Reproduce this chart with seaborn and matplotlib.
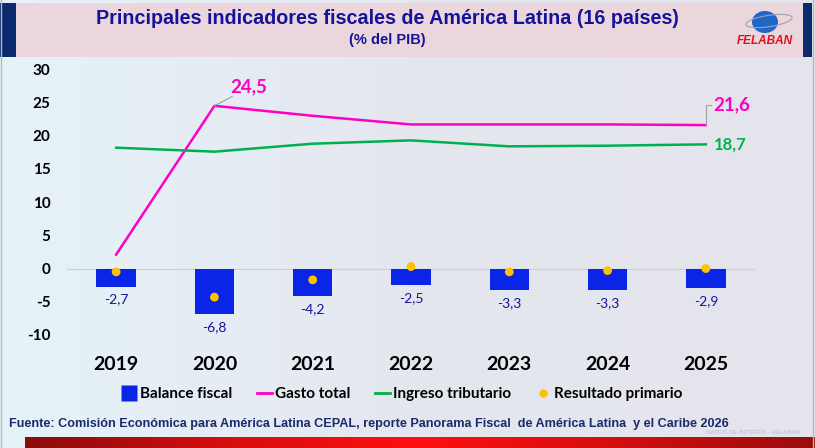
import numpy as np
import pandas as pd
import matplotlib
matplotlib.use("Agg")
import matplotlib.pyplot as plt
import seaborn as sns
from matplotlib.patches import Rectangle, Ellipse
from matplotlib.lines import Line2D

# -----------------------------
# Data (% del PIB)
# -----------------------------
years = ["2019", "2020", "2021", "2022", "2023", "2024", "2025"]
balance_fiscal = [-2.7, -6.8, -4.2, -2.5, -3.3, -3.3, -2.9]
gasto_total = [2.1, 24.5, 23.0, 21.7, 21.7, 21.7, 21.6]
ingreso_tributario = [18.2, 17.6, 18.8, 19.3, 18.4, 18.5, 18.7]
resultado_primario = [-0.5, -4.3, -1.7, 0.3, -0.5, -0.3, 0.0]
y_ticks = [-10, -5, 0, 5, 10, 15, 20, 25, 30]

df = pd.DataFrame({
    "year": years,
    "pos": np.arange(len(years)),
    "balance": balance_fiscal,
    "gasto": gasto_total,
    "ingreso": ingreso_tributario,
    "primario": resultado_primario,
})

# -----------------------------
# Style
# -----------------------------
NAVY = "#14149a"
BLUE = "#0a24e8"
PINK = "#ff00c3"
GREEN = "#00b050"
GOLD = "#ffc000"
plt.rcParams["font.family"] = ["Lato", "DejaVu Sans"]
NARROW = ["Liberation Sans Narrow", "Liberation Sans", "DejaVu Sans"]

W, H = 815, 448
fig = plt.figure(figsize=(W / 100, H / 100), dpi=100)


def fx(px):
    return px / W


def fy(py):
    return 1 - py / H


# background gradient
bg = fig.add_axes([0, 0, 1, 1], zorder=-10)
grad = np.linspace(0, 1, 256)[None, :]
cmap_bg = matplotlib.colors.LinearSegmentedColormap.from_list("bg", ["#e6f3f9", "#e5e7ef", "#e4e5ec"])
bg.imshow(grad, aspect="auto", cmap=cmap_bg, extent=[0, 1, 0, 1])
bg.set_xlim(0, 1)
bg.set_ylim(0, 1)
bg.axis("off")

# header band
fig.patches.append(Rectangle((fx(16), fy(57)), fx(787), 54 / H, transform=fig.transFigure,
                             facecolor="#ecd6dd", edgecolor="none", zorder=-5))
fig.patches.append(Rectangle((0, fy(57)), fx(16), 54 / H, transform=fig.transFigure,
                             facecolor="#0b2a6e", edgecolor="none", zorder=-5))
fig.patches.append(Rectangle((fx(803), fy(57)), fx(9), 54 / H, transform=fig.transFigure,
                             facecolor="#0b2a6e", edgecolor="none", zorder=-5))
fig.text(fx(387), fy(18), "Principales indicadores fiscales de América Latina (16 países)",
         ha="center", va="center", fontsize=14.2, fontweight="bold", color=NAVY, family=NARROW)
fig.text(fx(387), fy(40), "(% del PIB)", ha="center", va="center", fontsize=10.5,
         fontweight="bold", color=NAVY, family=NARROW)

# logo
fig.patches.append(Ellipse((fx(765), fy(22)), 26 / W, 22 / H, transform=fig.transFigure,
                           facecolor="#1e66c8", edgecolor="none", zorder=-4))
fig.patches.append(Ellipse((fx(769), fy(21)), 48 / W, 11 / H, angle=18, transform=fig.transFigure,
                           facecolor="none", edgecolor="#9aa4b8", lw=0.8, zorder=-4))
fig.text(fx(765), fy(41), "FELABAN", ha="center", va="center", fontsize=8.5, fontweight="bold",
         fontstyle="italic", color="#e0101a", family=["Liberation Sans", "DejaVu Sans"])

# -----------------------------
# Main chart
# -----------------------------
ax = fig.add_axes([fx(67), fy(335), fx(755) - fx(67), (335 - 69.3) / H])
ax.set_facecolor("none")

sns.barplot(data=df, x="year", y="balance", color=BLUE, width=0.4, saturation=1,
            ax=ax, zorder=2)
sns.lineplot(data=df, x="pos", y="gasto", color=PINK, lw=1.8, ax=ax, zorder=3)
sns.lineplot(data=df, x="pos", y="ingreso", color=GREEN, lw=1.8, ax=ax, zorder=3)
sns.scatterplot(data=df, x="pos", y="primario", color=GOLD, s=40, edgecolor="none",
                ax=ax, zorder=4)

ax.axhline(0, color="#cfcfcf", lw=0.9, zorder=1)
ax.set_xlim(-0.5, 6.5)
ax.set_ylim(-10, 30)
ax.set_yticks(y_ticks)
ax.set_yticklabels([str(t) for t in y_ticks])
ax.set_xticks(df["pos"])
ax.set_xticklabels(years)
ax.set_xlabel("")
ax.set_ylabel("")
ax.tick_params(axis="y", length=0, pad=12, labelsize=11)
ax.tick_params(axis="x", length=0, pad=15, labelsize=14)
for lbl in ax.get_yticklabels():
    lbl.set_fontweight("bold")
for lbl in ax.get_xticklabels():
    lbl.set_fontweight("bold")
for s in ax.spines.values():
    s.set_visible(False)

# bar labels
for i, v in enumerate(balance_fiscal):
    ax.annotate(f"{v:.1f}".replace(".", ","), (i, v), xytext=(0, -5), textcoords="offset points",
                ha="center", va="top", fontsize=10, color=NAVY)

# end labels
ax.plot([1, 1.18], [gasto_total[1], gasto_total[1] + 1.4], color="#a0a0a0", lw=0.8, zorder=3)
ax.text(1.16, gasto_total[1] + 1.6, "24,5", color=PINK, fontsize=13.5, fontweight="bold",
        ha="left", va="bottom")
ax.plot([6, 6, 6.05], [gasto_total[6], gasto_total[6] + 3.0, gasto_total[6] + 3.0],
        color="#a0a0a0", lw=0.8, zorder=3)
ax.text(6.08, gasto_total[6] + 3.0, "21,6", color=PINK, fontsize=13.5, fontweight="bold",
        ha="left", va="center")
ax.text(6.08, ingreso_tributario[6], "18,7", color=GREEN, fontsize=12, fontweight="bold",
        ha="left", va="center")

# legend
handles = [
    Line2D([], [], marker="s", color="none", markerfacecolor=BLUE, markeredgecolor="none", markersize=11),
    Line2D([], [], color=PINK, lw=2),
    Line2D([], [], color=GREEN, lw=2),
    Line2D([], [], marker="o", color="none", markerfacecolor=GOLD, markeredgecolor="none", markersize=6),
]
fig.legend(handles, ["Balance fiscal", "Gasto total", "Ingreso tributario", "Resultado primario"],
           loc="center", bbox_to_anchor=(fx(402), fy(394)), ncol=4, frameon=False,
           handlelength=1.0, handletextpad=0.2, columnspacing=1.6,
           prop={"size": 11, "weight": "bold"})

# source
fig.text(fx(9), fy(424), "Fuente: Comisión Económica para América Latina CEPAL, reporte Panorama Fiscal  de América Latina  y el Caribe 2026",
         ha="left", va="center", fontsize=9.1, fontweight="bold", color="#1a2a6c", family=NARROW)
fig.text(fx(800), fy(432), "DATOS DE INTERÉS - FELABAN", ha="right", va="center", fontsize=4.5,
         color="#b8bcc8", family=NARROW)

# bottom red bar
rb = fig.add_axes([fx(25), 0, fx(790), 11 / H], zorder=-3)
cmap_red = matplotlib.colors.LinearSegmentedColormap.from_list("red", ["#8a0b0b", "#d40e0e", "#ff1010", "#d40e0e", "#9a0c0c"])
rb.imshow(grad, aspect="auto", cmap=cmap_red, extent=[0, 1, 0, 1])
rb.axis("off")

# thin borders
fig.add_artist(Line2D([fx(1), fx(1)], [0, 1], color="#b8b8b8", lw=1))
fig.add_artist(Line2D([fx(813), fx(813)], [0, 1], color="#b8b8b8", lw=1))

fig.savefig("out.png", dpi=100)
